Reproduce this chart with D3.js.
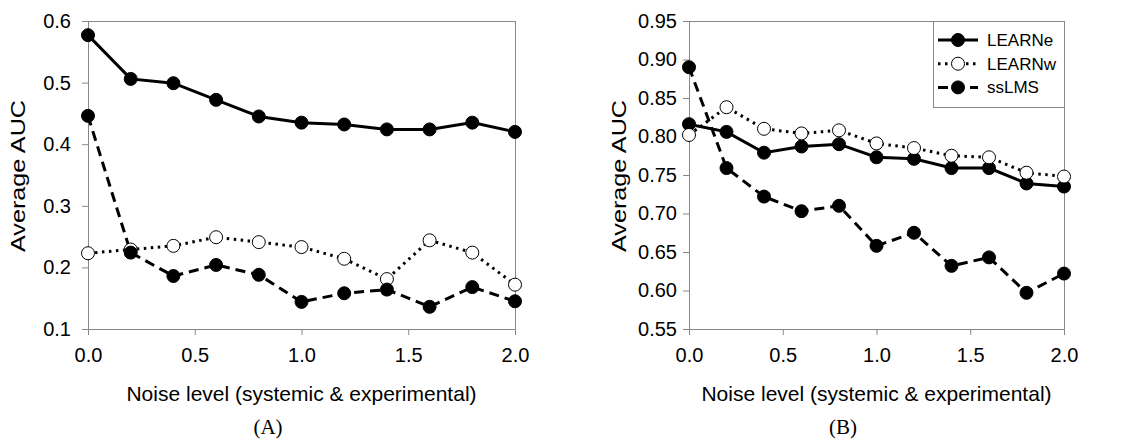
<!DOCTYPE html>
<html><head><meta charset="utf-8">
<script src="https://cdn.jsdelivr.net/npm/d3@7"></script>
<style>body{margin:0;background:#fff}svg{display:block}</style>
</head><body>
<svg id="c" width="1140" height="443"></svg>
<script>
const noiseLevels = [0.0,0.2,0.4,0.6,0.8,1.0,1.2,1.4,1.6,1.8,2.0];
const seriesNames = ["LEARNe","LEARNw","ssLMS"];
// Panel A
const learnE_A = [0.577,0.506,0.499,0.472,0.445,0.435,0.432,0.424,0.424,0.435,0.420];
const learnW_A = [0.223,0.229,0.235,0.249,0.241,0.233,0.214,0.181,0.244,0.224,0.172];
const ssLMS_A  = [0.446,0.224,0.186,0.204,0.188,0.144,0.158,0.164,0.136,0.168,0.145];
// Panel B
const learnE_B = [0.816,0.806,0.779,0.787,0.790,0.773,0.771,0.759,0.759,0.739,0.735];
const learnW_B = [0.802,0.838,0.810,0.804,0.808,0.791,0.785,0.775,0.773,0.753,0.748];
const ssLMS_B  = [0.890,0.759,0.722,0.703,0.710,0.658,0.675,0.632,0.643,0.597,0.622];
const xTicks = [0,0.5,1.0,1.5,2.0];
const yTicksA = [0.1,0.2,0.3,0.4,0.5,0.6];
const yTicksB = [0.55,0.60,0.65,0.70,0.75,0.80,0.85,0.90,0.95];
const panelLabels = ["(A)","(B)"];
const xTitle = "Noise level (systemic & experimental)";
const yTitle = "Average AUC";

const styles = [
  {dash:null, fill:"#000"},
  {dash:"2.5,4.5", fill:"#fff"},
  {dash:"10,6", fill:"#000"}
];

const svg = d3.select("#c");
const FONT = "'Liberation Sans', Arial, sans-serif";

function panel(cfg){
  const x = d3.scaleLinear().domain([0,2]).range([cfg.left,cfg.right]);
  const y = d3.scaleLinear().domain(cfg.yDomain).range([cfg.bottom,cfg.top]);
  const g = svg.append("g");
  g.append("rect").attr("x",cfg.left).attr("y",cfg.top)
    .attr("width",cfg.right-cfg.left).attr("height",cfg.bottom-cfg.top)
    .attr("fill","none").attr("stroke","#888").attr("stroke-width",1).attr("shape-rendering","crispEdges");
  const xa = g.append("g").attr("transform",`translate(0,${cfg.bottom})`)
    .call(d3.axisBottom(x).tickValues(xTicks).tickFormat(d3.format(".1f")).tickSize(6).tickSizeOuter(0).tickPadding(13));
  const ya = g.append("g").attr("transform",`translate(${cfg.left},0)`)
    .call(d3.axisLeft(y).tickValues(cfg.yTicks).tickFormat(d3.format(cfg.yFmt)).tickSize(6).tickSizeOuter(0).tickPadding(cfg.yPad));
  [xa,ya].forEach(a=>{
    a.select(".domain").attr("stroke","#888");
    a.selectAll(".tick line").attr("stroke","#888");
    a.selectAll("text").attr("font-family",FONT).attr("font-size",20).attr("fill","#000");
  });
  const line = d3.line().x((d,i)=>x(noiseLevels[i])).y(d=>y(d));
  cfg.series.forEach((s,k)=>{
    g.append("path").datum(s).attr("d",line).attr("fill","none")
      .attr("stroke","#000").attr("stroke-width",3)
      .attr("stroke-dasharray",styles[k].dash);
  });
  cfg.series.forEach((s,k)=>{
    g.selectAll(null).data(s).enter().append("circle")
      .attr("cx",(d,i)=>x(noiseLevels[i])).attr("cy",d=>y(d)).attr("r",6.5)
      .attr("fill",styles[k].fill).attr("stroke","#000").attr("stroke-width",1);
  });
  g.append("text").attr("x",(cfg.left+cfg.right)/2).attr("y",401)
    .attr("text-anchor","middle").attr("font-family",FONT).attr("font-size",21).text(xTitle);
  g.append("text").attr("transform",`translate(${cfg.yTitleX},${(cfg.top+cfg.bottom)/2+1}) rotate(-90)`)
    .attr("text-anchor","middle").attr("font-family",FONT).attr("font-size",21)
    .attr("textLength",152).attr("lengthAdjust","spacingAndGlyphs").text(yTitle);
  g.append("text").attr("x",cfg.labelX).attr("y",434)
    .attr("text-anchor","middle").attr("font-family","'Liberation Serif', 'Times New Roman', serif").attr("font-size",21).text(cfg.label);
  return {x,y,g};
}

panel({left:88,right:515,top:21,bottom:329,yDomain:[0.1,0.6],yTicks:yTicksA,yFmt:".1f",yPad:11,
  series:[learnE_A,learnW_A,ssLMS_A],yTitleX:25,label:panelLabels[0],labelX:268});
panel({left:689,right:1064,top:21,bottom:329,yDomain:[0.55,0.95],yTicks:yTicksB,yFmt:".2f",yPad:6,
  series:[learnE_B,learnW_B,ssLMS_B],yTitleX:626,label:panelLabels[1],labelX:843});

// legend
const lg = svg.append("g");
lg.append("rect").attr("x",933).attr("y",21).attr("width",131).attr("height",86)
  .attr("fill","#fff").attr("stroke","#888").attr("stroke-width",1).attr("shape-rendering","crispEdges");
seriesNames.forEach((n,k)=>{
  const yy = 40 + k*23.7;
  lg.append("line").attr("x1",938).attr("x2",978).attr("y1",yy).attr("y2",yy)
    .attr("stroke","#000").attr("stroke-width",3).attr("stroke-dasharray",styles[k].dash);
  lg.append("circle").attr("cx",958).attr("cy",yy).attr("r",6.5)
    .attr("fill",styles[k].fill).attr("stroke","#000").attr("stroke-width",1);
  lg.append("text").attr("x",987).attr("y",yy).attr("dy","0.35em")
    .attr("font-family",FONT).attr("font-size",17).text(n);
});
</script>
</body></html>
